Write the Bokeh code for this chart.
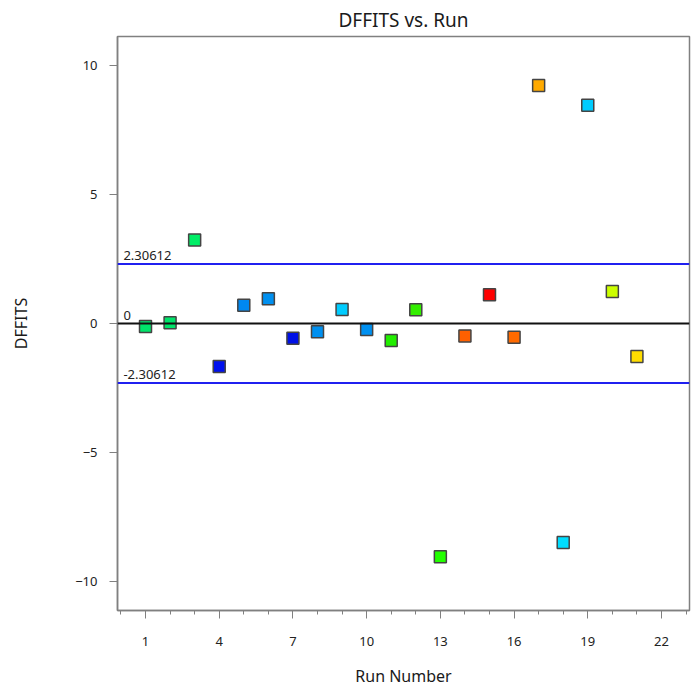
from bokeh.plotting import figure
from bokeh.models import Range1d, FixedTicker, Span, Label, ColumnDataSource
from bokeh.embed import file_html
from bokeh.resources import INLINE

runs = list(range(1, 22))
dffits = [-0.12, 0.03, 3.24, -1.67, 0.71, 0.96, -0.57, -0.32, 0.54, -0.23, -0.66,
          0.53, -9.04, -0.48, 1.11, -0.53, 9.22, -8.49, 8.46, 1.24, -1.28]
colors = ["#00e46a", "#00e46a", "#00ee66", "#0010ee", "#0088f0", "#0090f0", "#0010e6",
          "#0090f0", "#00ccff", "#0090f0", "#22ee00", "#33ee00", "#22ff00", "#ff6000",
          "#ff0000", "#ff6a00", "#ffaa00", "#00ddff", "#00ccff", "#ccff00", "#ffdd00"]
limit = 2.30612
x_ticks = [1, 4, 7, 10, 13, 16, 19, 22]
y_ticks = [-10, -5, 0, 5, 10]

FONT = "Noto Sans"

p = figure(width=696, height=691, output_backend="svg", toolbar_location=None,
           x_range=Range1d(-0.14, 23.14), y_range=Range1d(-11.12, 11.12),
           min_border_left=117, min_border_right=7, min_border_top=36, min_border_bottom=81,
           title="DFFITS vs. Run")
p.title.align = "center"
p.title.text_font = FONT
p.title.text_font_size = "19px"
p.title.text_font_style = "normal"
p.title.text_color = "#1a1a1a"
p.title.standoff = 8

p.grid.visible = False
p.outline_line_color = "#808080"
p.outline_line_width = 1.5

for ax in (p.xaxis[0], p.yaxis[0]):
    ax.axis_line_color = "#808080"
    ax.axis_line_width = 1.5
    ax.major_tick_line_color = "#808080"
    ax.minor_tick_line_color = "#808080"
    ax.major_tick_in = 0
    ax.minor_tick_in = 0
    ax.major_tick_out = 8
    ax.minor_tick_out = 4
    ax.major_label_text_font = FONT
    ax.major_label_text_font_size = "13px"
    ax.major_label_text_color = "#222222"
    ax.axis_label_text_font = FONT
    ax.axis_label_text_font_size = "16px"
    ax.axis_label_text_font_style = "normal"
    ax.axis_label_text_color = "#1a1a1a"

p.xaxis.ticker = FixedTicker(ticks=x_ticks, minor_ticks=list(range(0, 24)))
p.yaxis.ticker = FixedTicker(ticks=y_ticks, minor_ticks=[])
p.yaxis.minor_tick_out = 0
p.xaxis.axis_label = "Run Number"
p.yaxis.axis_label = "DFFITS"
p.xaxis.major_label_standoff = 18
p.xaxis.axis_label_standoff = 16
p.yaxis.major_label_standoff = 12
p.yaxis.axis_label_standoff = 40

for val, col in ((limit, "#2020f0"), (-limit, "#2020f0"), (0, "#111111")):
    p.add_layout(Span(location=val, dimension="width", line_color=col, line_width=2))

for val, txt in ((limit, "2.30612"), (0, "0"), (-limit, "-2.30612")):
    p.add_layout(Label(x=0.1, y=val, text=txt, x_offset=0, y_offset=4,
                       text_font=FONT, text_font_size="13px", text_color="#222222"))

src = ColumnDataSource(dict(x=runs, y=dffits, c=colors))
p.scatter("x", "y", source=src, marker="square", size=12, fill_color="c",
          line_color="#444444", line_width=1.5)

open("out.html", "w").write(file_html(p, INLINE))
